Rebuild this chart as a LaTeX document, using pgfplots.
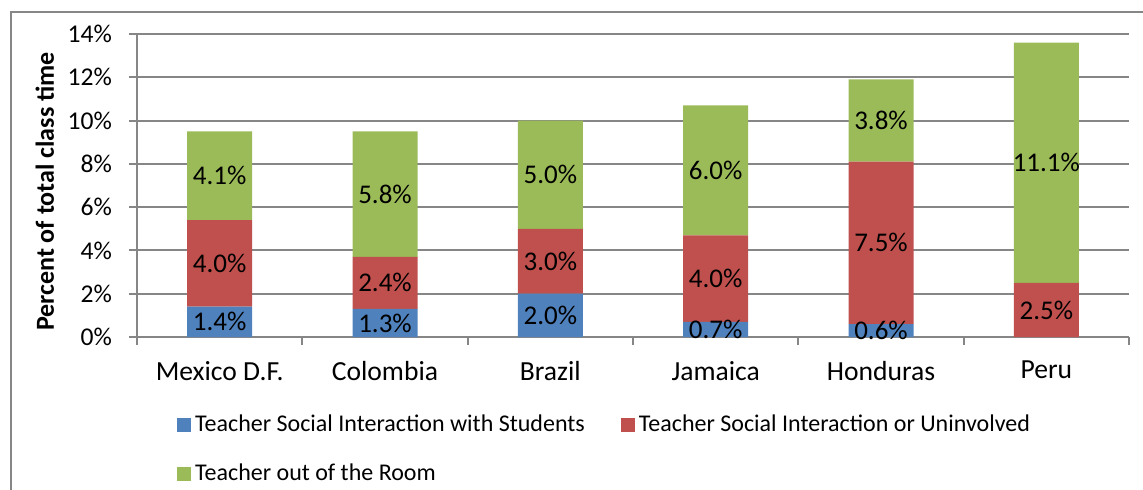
\documentclass[border=0pt]{standalone}
\usepackage{pgfplots}
\pgfplotsset{compat=1.18}
\usepackage{fontspec}
\setmainfont{Carlito}
\definecolor{cblue}{HTML}{4F81BD}
\definecolor{cred}{HTML}{C0504D}
\definecolor{cgreen}{HTML}{9BBB59}
\definecolor{cgrid}{HTML}{868686}
\pgfplotsset{/pgf/number format/assume math mode=true}
\begin{document}
\begin{tikzpicture}
\useasboundingbox (0,0) rectangle (571.5pt,244.5pt);
\draw[cgrid, line width=1pt] (5.5pt,-5pt) -- (5.5pt,238.5pt) -- (580pt,238.5pt);
\begin{axis}[
  at={(68.5pt,76pt)}, anchor=south west,
  scale only axis, width=496pt, height=151.5pt,
  ybar stacked, bar width=32.5pt,
  xmin=-0.5, xmax=5.5, ymin=0, ymax=14,
  ytick={0,2,...,14},
  yticklabel={\pgfmathprintnumber{\tick}\%},
  xtick={-0.5,0.5,1.5,2.5,3.5,4.5,5.5},
  xticklabels={Mexico D.F., Colombia, Brazil, Jamaica, Honduras, Peru, {}},
  xticklabel style={xshift=41.33pt, yshift=-4.5pt, font=\fontsize{13.8}{16.5}\selectfont, text=black},
  yticklabel style={xshift=-5pt, font=\fontsize{12.8}{15}\selectfont, text=black},
  tick align=outside, major tick length=4pt,
  tick style={cgrid, line width=1pt},
  axis x line*=bottom, axis y line*=left,
  axis line style={cgrid, line width=1pt, -},
  ymajorgrids, grid style={cgrid, line width=1pt},
  ylabel={Percent of total class time},
  ylabel style={at={(axis description cs:-0.093,0.48)}, anchor=center, rotate=0, font=\fontsize{13}{15.6}\selectfont\bfseries},
  visualization depends on={rawy \as \rawy},
  nodes near coords={\ifdim\rawy pt>0pt\pgfmathprintnumber[fixed,fixed zerofill,precision=1]{\rawy}\%\fi},
  every node near coord/.append style={anchor=center, font=\fontsize{13.5}{16}\selectfont, text=black},
  legend style={draw=none, at={(0.034,-0.230)}, anchor=north west, legend columns=2,
    font=\fontsize{12}{14.4}\selectfont, /tikz/every even column/.append style={column sep=16pt}, row sep=10.5pt},
  legend cell align=left,
  legend image code/.code={\fill[#1] (0pt,-3.5pt) rectangle (7pt,3.5pt);},
]
\addplot[fill=cblue, draw=none] coordinates {(0,1.4) (1,1.3) (2,2.0) (3,0.7) (4,0.6) (5,0)};
\addplot[fill=cred, draw=none] coordinates {(0,4.0) (1,2.4) (2,3.0) (3,4.0) (4,7.5) (5,2.5)};
\addplot[fill=cgreen, draw=none] coordinates {(0,4.1) (1,5.8) (2,5.0) (3,6.0) (4,3.8) (5,11.1)};
\legend{Teacher Social Interaction with Students, Teacher Social Interaction or Uninvolved, Teacher out of the Room}
\end{axis}
\end{tikzpicture}
\end{document}
